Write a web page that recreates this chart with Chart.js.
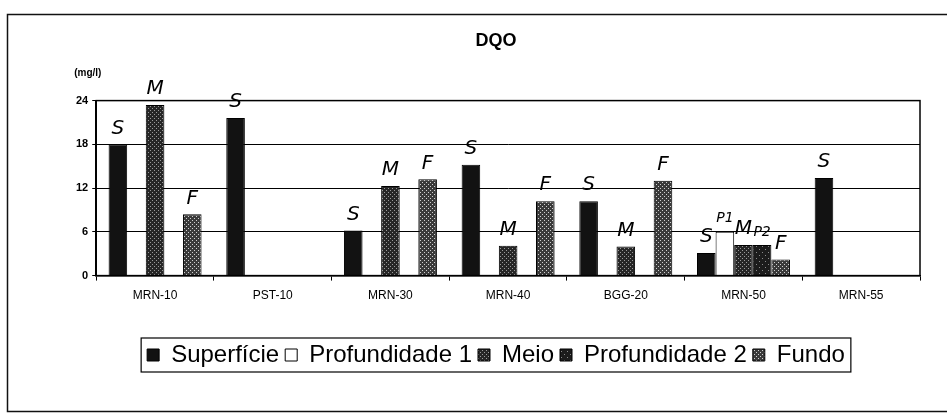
<!DOCTYPE html>
<html>
<head>
<meta charset="utf-8">
<script src="https://cdn.jsdelivr.net/npm/chart.js@4.4.1/dist/chart.umd.min.js"></script>
<style>
  html, body { margin: 0; padding: 0; background: #fff; }
  #wrap { width: 947px; height: 414px; }
</style>
</head>
<body>
<div id="wrap"><canvas id="dqoChart" width="947" height="414"></canvas></div>
<script>
var stations = ['MRN-10', 'PST-10', 'MRN-30', 'MRN-40', 'BGG-20', 'MRN-50', 'MRN-55'];
var superficie = [18, 21.6, 6.2, 15.2, 10.2, 3.1, 13.4];
var profundidade1 = [null, null, null, null, null, 6.0, null];
var meio = [23.4, null, 12.3, 4.1, 4.0, 4.2, null];
var profundidade2 = [null, null, null, null, null, 4.2, null];
var fundo = [8.4, null, 13.2, 10.2, 13.0, 2.2, null];
var yTicks = [0, 6, 12, 18, 24];

// handwritten notes on the scan, one per bar
var notesS = ['S', 'S', 'S', 'S', 'S', 'S', 'S'];
var notesP1 = [null, null, null, null, null, 'P1', null];
var notesM = ['M', null, 'M', 'M', 'M', 'M', null];
var notesP2 = [null, null, null, null, null, 'P2', null];
var notesF = ['F', null, 'F', 'F', 'F', 'F', null];

function dotPattern(base, dot, step) {
  var c = document.createElement('canvas');
  c.width = step * 2; c.height = step * 2;
  var g = c.getContext('2d');
  g.fillStyle = base;
  g.fillRect(0, 0, c.width, c.height);
  g.fillStyle = dot;
  g.fillRect(0, 0, 1, 1);
  g.fillRect(step, step, 1, 1);
  return g.createPattern(c, 'repeat');
}

var ctx = document.getElementById('dqoChart').getContext('2d');
var fillS = '#121212';
var fillP1 = '#ffffff';
var fillM = dotPattern('#262626', '#9a9a9a', 2);
var fillP2 = dotPattern('#1c1c1c', '#8a8a8a', 3);
var fillF = dotPattern('#3a3a3a', '#d0d0d0', 2);

var frame = {
  id: 'frame',
  beforeDraw: function(chart) {
    var c = chart.ctx;
    c.save();
    c.strokeStyle = '#111';
    c.lineWidth = 1.5;
    c.strokeRect(7.5, 14.5, 945, 397);
    c.restore();
  },
  afterDraw: function(chart) {
    var c = chart.ctx, a = chart.chartArea;
    c.save();
    c.strokeStyle = '#000';
    c.lineWidth = 1.5;
    c.strokeRect(a.left, a.top, a.right - a.left, a.bottom - a.top);
    // unit label
    c.fillStyle = '#000';
    c.font = 'bold 10px "Liberation Sans", Arial, sans-serif';
    c.textAlign = 'left';
    c.textBaseline = 'middle';
    c.fillText('(mg/l)', a.left - 22, a.top - 27);
    // legend frame
    var boxes = chart.legend.legendHitBoxes;
    if (boxes && boxes.length) {
      var l = boxes[0].left, r = boxes[boxes.length - 1].left + boxes[boxes.length - 1].width;
      var t = boxes[0].top, h = boxes[0].height;
      c.lineWidth = 1.2;
      c.strokeRect(l - 6, t - 5, r - l + 12, h + 10);
    }
    // handwritten notes
    var notes = [notesS, notesP1, notesM, notesP2, notesF];
    c.textAlign = 'center';
    c.textBaseline = 'bottom';
    notes.forEach(function(list, di) {
      var meta = chart.getDatasetMeta(di);
      list.forEach(function(txt, i) {
        if (!txt) return;
        var bar = meta.data[i];
        if (!bar || chart.data.datasets[di].data[i] == null) return;
        c.font = (txt.length > 1 ? 'italic 14px' : 'italic 20px') + ' "DejaVu Sans", sans-serif';
        c.fillText(txt, bar.x, bar.y - 6);
      });
    });
    c.restore();
  }
};

new Chart(ctx, {
  type: 'bar',
  data: {
    labels: stations,
    datasets: [
      { label: 'Superfície', data: superficie, backgroundColor: fillS },
      { label: 'Profundidade 1', data: profundidade1, backgroundColor: fillP1 },
      { label: 'Meio', data: meio, backgroundColor: fillM },
      { label: 'Profundidade 2', data: profundidade2, backgroundColor: fillP2 },
      { label: 'Fundo', data: fundo, backgroundColor: fillF }
    ].map(function(d) {
      d.borderColor = '#000';
      d.borderWidth = 1;
      d.categoryPercentage = 0.79;
      d.barPercentage = 1.0;
      return d;
    })
  },
  options: {
    responsive: false,
    animation: false,
    layout: { padding: { left: 72, right: 27, top: 8, bottom: 37 } },
    plugins: {
      title: {
        display: true,
        text: 'DQO',
        color: '#000',
        font: { family: '"Liberation Sans", Arial, sans-serif', size: 18, weight: 'bold' },
        padding: { top: 22, bottom: 49 }
      },
      legend: {
        position: 'bottom',
        labels: {
          color: '#000',
          boxWidth: 12,
          boxHeight: 12,
          padding: 6,
          font: { family: '"Liberation Sans", Arial, sans-serif', size: 24 }
        }
      },
      tooltip: { enabled: false }
    },
    scales: {
      x: {
        grid: { display: true, drawOnChartArea: false, color: '#000', tickLength: 5, offset: true },
        border: { color: '#000', width: 1.5 },
        afterFit: function(scale) { scale.height += 26; },
        ticks: {
          color: '#000',
          padding: 8,
          font: { family: '"Liberation Sans", Arial, sans-serif', size: 12 }
        }
      },
      y: {
        min: 0,
        max: 24,
        afterBuildTicks: function(axis) {
          axis.ticks = yTicks.map(function(v) { return { value: v }; });
        },
        grid: { color: '#000', lineWidth: 1, tickLength: 4 },
        border: { color: '#000', width: 1.5 },
        ticks: {
          color: '#000',
          padding: 4,
          font: { family: '"Liberation Sans", Arial, sans-serif', size: 11, weight: 'bold' }
        }
      }
    }
  },
  plugins: [frame]
});
</script>
</body>
</html>
